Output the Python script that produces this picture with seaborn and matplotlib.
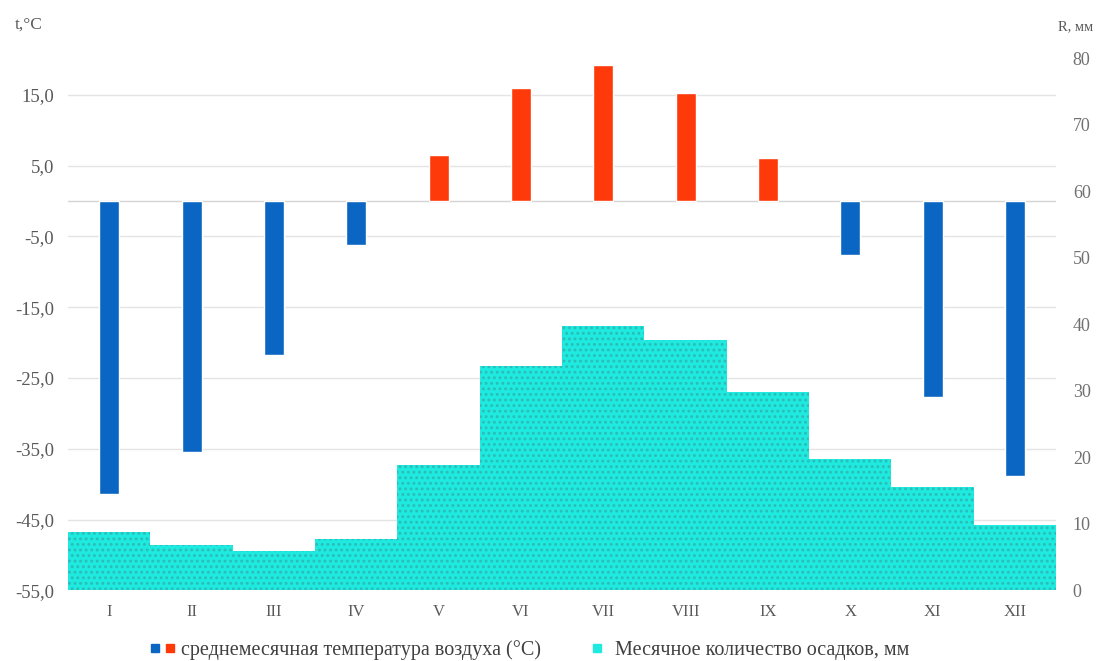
import numpy as np
import pandas as pd
import matplotlib
matplotlib.use("Agg")
import matplotlib.pyplot as plt
import seaborn as sns
from matplotlib.lines import Line2D
from matplotlib.legend_handler import HandlerTuple

# monthly climate data
months = ['I', 'II', 'III', 'IV', 'V', 'VI', 'VII', 'VIII', 'IX', 'X', 'XI', 'XII']
temp = [-41.4, -35.4, -21.8, -6.2, 6.5, 16.0, 19.2, 15.3, 6.1, -7.6, -27.7, -38.9]
precip = [8.7, 6.8, 5.9, 7.7, 18.8, 33.7, 39.7, 37.7, 29.8, 19.8, 15.6, 9.8]

t_ticks = [-55, -45, -35, -25, -15, -5, 5, 15]
t_labels = ['-55,0', '-45,0', '-35,0', '-25,0', '-15,0', '-5,0', '5,0', '15,0']
r_ticks = [0, 10, 20, 30, 40, 50, 60, 70, 80]

blue = '#0A66C2'
red = '#FF3A0A'
cyan = '#1EEADF'
txt = '#595959'

sns.set_theme(style='white')
plt.rcParams['font.family'] = ['Liberation Serif', 'DejaVu Serif']
plt.rcParams['hatch.linewidth'] = 1.3

df = pd.DataFrame({'month': months, 'temp': temp, 'precip': precip})
df['sign'] = np.where(df['temp'] < 0, 'neg', 'pos')

fig = plt.figure(figsize=(10.99, 6.61), dpi=100)
rect = [0.062, 0.107, 0.899, 0.805]

# bottom layer: grid and left axis
ax = fig.add_axes(rect)
ax.set_zorder(0)
# middle layer: precipitation
ax_r = ax.twinx()
ax_r.set_zorder(1)
# top layer: temperature bars
ax_t = fig.add_axes(rect, sharex=ax, sharey=ax)
ax_t.set_zorder(2)
ax_t.patch.set_visible(False)

sns.barplot(data=df, x='month', y='precip', color=cyan, width=1.0,
            saturation=1, ax=ax_r)
for p in ax_r.patches:
    p.set_facecolor(cyan)
    p.set_edgecolor('#2BBDB8')
    p.set_linewidth(0)
    p.set_hatch('...')

sns.barplot(data=df, x='month', y='temp', hue='sign',
            palette={'neg': blue, 'pos': red}, dodge=False, width=0.245,
            saturation=1, legend=False, ax=ax_t)

ax.set_xlim(-0.5, 11.5)
ax.set_ylim(-55, 20.2)
ax.set_yticks(t_ticks)
ax.set_yticklabels(t_labels)
ax.yaxis.grid(True, color='#E4E4E4', lw=1)
ax.axhline(0, color='#D4D4D4', lw=1)
ax.set_xticks(range(len(months)))
ax.set_xticklabels(months)

ax_r.set_ylim(0, 80)
ax_r.set_yticks(r_ticks)
ax_r.set_ylabel('')
ax_t.axis('off')

for a in (ax, ax_r):
    a.set_xlabel('')
    a.set_ylabel('')
    for s in a.spines.values():
        s.set_visible(False)
    a.tick_params(length=0, labelcolor=txt)
ax.tick_params(axis='y', pad=10, labelsize=13.5)
ax.tick_params(axis='x', pad=10, labelsize=12)
ax_r.tick_params(axis='y', pad=12, labelsize=13, labelcolor='#707070')

fig.text(15 / 1099, 1 - 25 / 661, 't,°C', color=txt, fontsize=12.5, va='center')
fig.text(1058 / 1099, 1 - 27 / 661, 'R, мм', color=txt, fontsize=10.5, va='center')

handles = [
    (Line2D([], [], ls='none', marker='s', ms=6, color=blue),
     Line2D([], [], ls='none', marker='s', ms=6, color=red)),
    Line2D([], [], ls='none', marker='s', ms=6, color=cyan),
]
labels = ['среднемесячная температура воздуха (°C)', 'Месячное количество осадков, мм']
fig.legend(handles, labels, handler_map={tuple: HandlerTuple(ndivide=None, pad=0.2)},
           loc='center', bbox_to_anchor=(530 / 1099, 1 - 650 / 661), ncol=2,
           frameon=False, handlelength=1.2, handletextpad=0.3, columnspacing=2.2,
           fontsize=14.5, labelcolor='#404040')

fig.savefig('out.png', dpi=100)
